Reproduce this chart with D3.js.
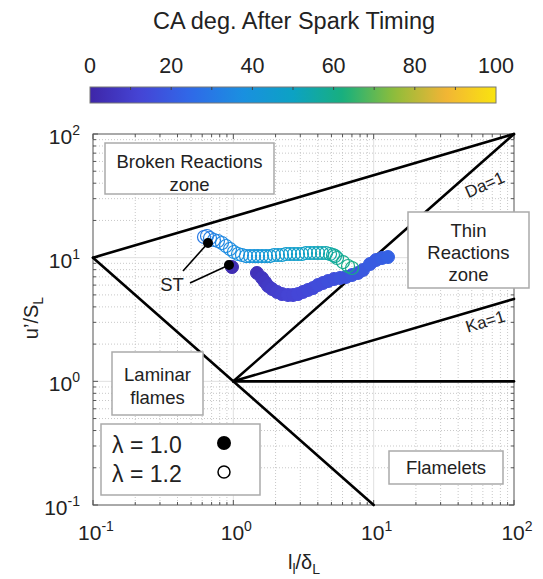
<!DOCTYPE html>
<html>
<head>
<meta charset="utf-8">
<script src="https://cdn.jsdelivr.net/npm/d3@7"></script>
<style>
  html, body { margin: 0; padding: 0; background: #fff; }
  svg { display: block; font-family: "Liberation Sans", Arial, sans-serif; }
</style>
</head>
<body>
<svg id="chart" width="543" height="579"></svg>
<script>
// Borghi regime diagram with spark-to-flame trajectories coloured by crank angle

// lambda = 1.0 (filled markers)
const lam10X  = [0.978, 1.474, 1.600, 1.681, 1.767, 1.886, 2.047, 2.222, 2.453, 2.662, 2.889, 3.136, 3.405, 3.696, 4.012, 4.355, 4.727, 5.217, 5.756, 6.353, 7.009, 7.734, 8.395, 9.417, 10.39, 11.47, 12.65];
const lam10Y  = [8.40, 7.52, 6.85, 6.36, 5.90, 5.58, 5.28, 5.08, 4.99, 4.99, 5.08, 5.28, 5.48, 5.68, 6.01, 6.24, 6.47, 6.72, 6.85, 6.98, 7.24, 7.52, 7.95, 8.89, 9.57, 9.94, 10.12];
const lam10CA = [3, 5, 6, 7, 8, 9, 10, 11, 12, 12, 13, 13, 14, 14, 15, 15, 16, 16, 17, 17, 18, 18, 19, 20, 20, 21, 22];

// lambda = 1.2 (open markers)
const lam12X  = [0.618, 0.649, 0.682, 0.728, 0.777, 0.830, 0.887, 0.947, 1.01, 1.08, 1.153, 1.231, 1.315, 1.404, 1.499, 1.600, 1.709, 1.825, 1.949, 2.081, 2.222, 2.373, 2.534, 2.706, 2.889, 3.085, 3.294, 3.518, 3.757, 4.012, 4.284, 4.575, 4.885, 5.132, 5.303, 5.480, 6.045, 6.565, 7.009];
const lam12Y  = [14.69, 14.97, 14.42, 13.89, 13.64, 13.14, 12.43, 11.75, 11.11, 10.71, 10.51, 10.31, 10.31, 10.31, 10.31, 10.31, 10.31, 10.31, 10.51, 10.51, 10.51, 10.71, 10.71, 10.71, 10.71, 10.71, 10.91, 10.91, 10.91, 10.91, 10.91, 10.91, 10.71, 10.51, 10.31, 9.94, 9.22, 8.56, 8.25];
const lam12CA = [30, 31, 32, 33, 34, 35, 36, 36, 37, 38, 38, 39, 40, 40, 41, 42, 42, 43, 44, 44, 45, 46, 46, 47, 48, 48, 49, 50, 51, 52, 53, 54, 55, 56, 57, 58, 59, 60, 61];

// spark timing points
const stPoints = [[0.931, 8.72], [0.660, 13.14]];

// regime boundaries [x0, y0, x1, y1] in (l/δ, u'/S)
const boundaries = [
  [0.1, 10, 10, 0.1],   // Re = 1
  [0.1, 10, 100, 100],  // Ka = 100
  [1, 1, 100, 100],     // Da = 1
  [1, 1, 100, 4.6416],  // Ka = 1
  [1, 1, 100, 1]        // u'/S = 1
];

const axisTicks = [0.1, 1, 10, 100];
const axisExp = ["-1", "0", "1", "2"];
const cbarTicks = [0, 20, 40, 60, 80, 100];

// parula-style colormap anchors
const parula = ["#3e26a8", "#4545d6", "#2f6ae8", "#1a8fe0", "#0ca2c4", "#18b07c", "#8fbd3a", "#f2b436", "#f9e40f"];
const cmap = d3.scaleLinear()
  .domain(d3.range(parula.length).map(i => i * 100 / (parula.length - 1)))
  .range(parula)
  .interpolate(d3.interpolateRgb)
  .clamp(true);

const svg = d3.select("#chart");
const L = 93, R = 514, T = 134, B = 505;
const x = d3.scaleLog().domain([0.1, 100]).range([L, R]);
const y = d3.scaleLog().domain([0.1, 100]).range([B, T]);

// ---- colour bar ----
const cbX = d3.scaleLinear().domain([0, 100]).range([90, 496]);
const cbY0 = 87, cbH = 16;
const defs = svg.append("defs");
const grad = defs.append("linearGradient").attr("id", "cbgrad");
d3.range(0, 101, 2).forEach(v => grad.append("stop").attr("offset", v + "%").attr("stop-color", cmap(v)));
svg.append("rect").attr("x", cbX(0)).attr("y", cbY0).attr("width", cbX(100) - cbX(0)).attr("height", cbH)
  .attr("fill", "url(#cbgrad)").attr("stroke", "#777").attr("stroke-width", 1);
d3.range(10, 100, 10).forEach(v => {
  svg.append("line").attr("x1", cbX(v)).attr("x2", cbX(v)).attr("y1", cbY0).attr("y2", cbY0 + 3)
    .attr("stroke", "#444").attr("stroke-width", 1);
});
svg.selectAll(".cbt").data(cbarTicks).enter().append("text")
  .attr("x", d => cbX(d)).attr("y", 73).attr("text-anchor", "middle")
  .attr("font-size", 21.5).attr("fill", "#222").text(d => d);
svg.append("text").attr("x", 294).attr("y", 29).attr("text-anchor", "middle")
  .attr("font-size", 23.5).attr("fill", "#222").text("CA deg. After Spark Timing");

// ---- grid ----
const minor = [];
for (let e = -1; e < 2; e++) for (let m = 2; m <= 9; m++) minor.push(m * Math.pow(10, e));
const grid = svg.append("g");
minor.forEach(v => {
  grid.append("line").attr("x1", x(v)).attr("x2", x(v)).attr("y1", T).attr("y2", B)
    .attr("stroke", "#c8c8c8").attr("stroke-width", 1).attr("stroke-dasharray", "1,2");
  grid.append("line").attr("x1", L).attr("x2", R).attr("y1", y(v)).attr("y2", y(v))
    .attr("stroke", "#c8c8c8").attr("stroke-width", 1).attr("stroke-dasharray", "1,2");
});
axisTicks.slice(1, 3).forEach(v => {
  grid.append("line").attr("x1", x(v)).attr("x2", x(v)).attr("y1", T).attr("y2", B)
    .attr("stroke", "#e0e0e0").attr("stroke-width", 1);
  grid.append("line").attr("x1", L).attr("x2", R).attr("y1", y(v)).attr("y2", y(v))
    .attr("stroke", "#e0e0e0").attr("stroke-width", 1);
});

// ---- axes (ticks inside, on all four sides) ----
const tickG = svg.append("g").attr("stroke", "#555").attr("stroke-width", 1);
const allTicks = axisTicks.map(v => [v, 5]).concat(minor.map(v => [v, 3]));
allTicks.forEach(([v, len]) => {
  tickG.append("line").attr("x1", x(v)).attr("x2", x(v)).attr("y1", B).attr("y2", B - len);
  tickG.append("line").attr("x1", x(v)).attr("x2", x(v)).attr("y1", T).attr("y2", T + len);
  tickG.append("line").attr("x1", L).attr("x2", L + len).attr("y1", y(v)).attr("y2", y(v));
  tickG.append("line").attr("x1", R).attr("x2", R - len).attr("y1", y(v)).attr("y2", y(v));
});
svg.append("rect").attr("x", L).attr("y", T).attr("width", R - L).attr("height", B - T)
  .attr("fill", "none").attr("stroke", "#555").attr("stroke-width", 1);

axisTicks.forEach((v, i) => {
  const tx = svg.append("text").attr("x", x(v) + 3).attr("y", 540).attr("text-anchor", "middle")
    .attr("font-size", 21).attr("fill", "#222");
  tx.append("tspan").text("10");
  tx.append("tspan").attr("dy", -9).attr("font-size", 14).text(axisExp[i]);
  const ty = svg.append("text").attr("x", 80).attr("y", y(v) + 10).attr("text-anchor", "end")
    .attr("font-size", 21).attr("fill", "#222");
  ty.append("tspan").text("10");
  ty.append("tspan").attr("dy", -9).attr("font-size", 14).text(axisExp[i]);
});

// axis titles
const xt = svg.append("text").attr("x", 304).attr("y", 569).attr("text-anchor", "middle")
  .attr("font-size", 20).attr("fill", "#222");
xt.append("tspan").text("l");
xt.append("tspan").attr("dy", 5).attr("font-size", 14).text("l");
xt.append("tspan").attr("dy", -5).text("/δ");
xt.append("tspan").attr("dy", 5).attr("font-size", 14).text("L");

const yt = svg.append("text").attr("transform", "translate(38,318) rotate(-90)").attr("text-anchor", "middle")
  .attr("font-size", 20).attr("fill", "#222");
yt.append("tspan").text("u’/S");
yt.append("tspan").attr("dy", 5).attr("font-size", 14).text("L");

// ---- regime boundary lines ----
svg.append("g").selectAll("line").data(boundaries).enter().append("line")
  .attr("x1", d => x(d[0])).attr("y1", d => y(d[1]))
  .attr("x2", d => x(d[2])).attr("y2", d => y(d[3]))
  .attr("stroke", "#000").attr("stroke-width", 2.6).attr("stroke-linecap", "round");

// line labels
svg.append("text").attr("transform", "translate(487,190) rotate(-24)").attr("text-anchor", "middle")
  .attr("font-size", 17).attr("fill", "#222").text("Da=1");
svg.append("text").attr("transform", "translate(487,327) rotate(-17)").attr("text-anchor", "middle")
  .attr("font-size", 17).attr("fill", "#222").text("Ka=1");

// ---- zone boxes ----
function zoneBox(x0, y0, w, h, lines, lineY) {
  svg.append("rect").attr("x", x0).attr("y", y0).attr("width", w).attr("height", h)
    .attr("fill", "#fff").attr("stroke", "#aaa").attr("stroke-width", 1.5);
  lines.forEach((s, i) => {
    svg.append("text").attr("x", x0 + w / 2).attr("y", lineY[i]).attr("text-anchor", "middle")
      .attr("font-size", 18.5).attr("fill", "#222").text(s);
  });
}
zoneBox(105, 143, 169, 51, ["Broken Reactions", "zone"], [168, 191]);
zoneBox(408, 212, 121, 76, ["Thin", "Reactions", "zone"], [237, 259, 281]);
zoneBox(112, 352, 91, 63, ["Laminar", "flames"], [381, 404]);
zoneBox(389, 451, 114, 33, ["Flamelets"], [474]);

// ---- trajectories ----
const lam10 = lam10X.map((v, i) => ({ x: v, y: lam10Y[i], ca: lam10CA[i] }));
const lam12 = lam12X.map((v, i) => ({ x: v, y: lam12Y[i], ca: lam12CA[i] }));

svg.append("g").selectAll("circle").data(lam10).enter().append("circle")
  .attr("cx", d => x(d.x)).attr("cy", d => y(d.y)).attr("r", 6.5)
  .attr("fill", d => cmap(d.ca)).attr("stroke", d => cmap(d.ca)).attr("stroke-width", 1);

svg.append("g").selectAll("circle").data(lam12).enter().append("circle")
  .attr("cx", d => x(d.x)).attr("cy", d => y(d.y)).attr("r", 6.5)
  .attr("fill", "none").attr("stroke", d => cmap(d.ca)).attr("stroke-width", 1.2);

// spark timing markers and callout
svg.append("g").selectAll("circle").data(stPoints).enter().append("circle")
  .attr("cx", d => x(d[0])).attr("cy", d => y(d[1])).attr("r", 5).attr("fill", "#000");
svg.append("line").attr("x1", 183).attr("y1", 271).attr("x2", x(stPoints[1][0])).attr("y2", y(stPoints[1][1]))
  .attr("stroke", "#000").attr("stroke-width", 1.6);
svg.append("line").attr("x1", 190).attr("y1", 283).attr("x2", x(stPoints[0][0])).attr("y2", y(stPoints[0][1]))
  .attr("stroke", "#000").attr("stroke-width", 1.6);
svg.append("text").attr("x", 172).attr("y", 291).attr("text-anchor", "middle")
  .attr("font-size", 18.5).attr("fill", "#222").text("ST");

// ---- legend ----
svg.append("rect").attr("x", 101).attr("y", 424).attr("width", 159).attr("height", 71)
  .attr("fill", "#fff").attr("stroke", "#aaa").attr("stroke-width", 1.5);
svg.append("text").attr("x", 112).attr("y", 453).attr("font-size", 23).attr("fill", "#222").text("λ = 1.0");
svg.append("text").attr("x", 112).attr("y", 482).attr("font-size", 23).attr("fill", "#222").text("λ = 1.2");
svg.append("circle").attr("cx", 224).attr("cy", 443).attr("r", 7).attr("fill", "#000");
svg.append("circle").attr("cx", 224).attr("cy", 472).attr("r", 6).attr("fill", "none")
  .attr("stroke", "#000").attr("stroke-width", 1.5);
</script>
</body>
</html>
